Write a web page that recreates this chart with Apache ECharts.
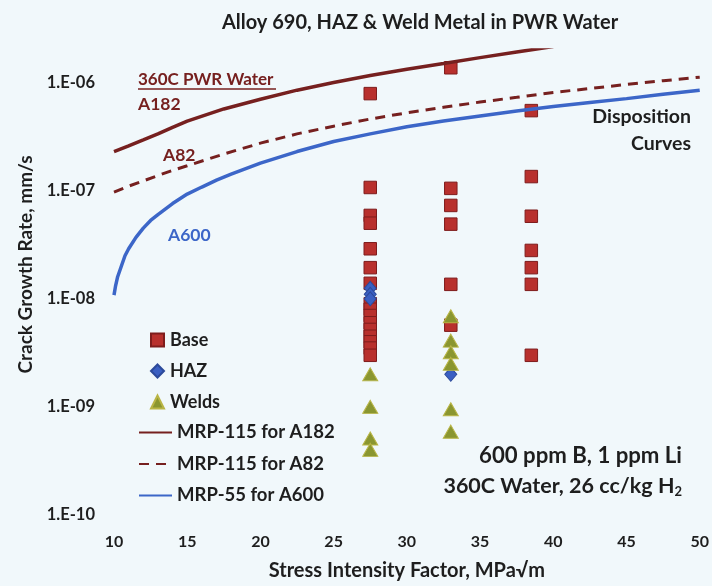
<!DOCTYPE html>
<html>
<head>
<meta charset="utf-8">
<script src="https://cdn.jsdelivr.net/npm/echarts@6/dist/echarts.min.js"></script>
<style>
  html, body { margin: 0; padding: 0; background: #f1f8fb; }
  #chart { width: 712px; height: 586px; }
</style>
</head>
<body>
<div id="chart"></div>
<script>
// --- data ---
var basePoints = [
    [27.5, 7.9e-7], [27.5, 1.07e-7], [27.5, 5.9e-8], [27.5, 5.0e-8], [27.5, 2.9e-8],
    [27.5, 1.94e-8], [27.5, 1.39e-8], [27.5, 9.0e-9], [27.5, 8.0e-9], [27.5, 7.0e-9],
    [27.5, 6.0e-9], [27.5, 5.2e-9], [27.5, 4.5e-9], [27.5, 4.0e-9], [27.5, 3.5e-9], [27.5, 3.0e-9],
    [33, 1.37e-6], [33, 1.05e-7], [33, 7.3e-8], [33, 4.9e-8], [33, 1.36e-8], [33, 5.7e-9],
    [38.5, 5.5e-7], [38.5, 1.35e-7], [38.5, 5.8e-8], [38.5, 2.8e-8], [38.5, 1.94e-8],
    [38.5, 1.36e-8], [38.5, 3.0e-9]
];
var hazPoints = [
    [27.5, 1.25e-8], [27.5, 1.1e-8], [27.5, 1.0e-8], [33, 2.0e-9]
];
var weldPoints = [
    [27.5, 2.0e-9], [27.5, 1.0e-9], [27.5, 5.1e-10], [27.5, 4.0e-10],
    [33, 6.9e-9], [33, 4.1e-9], [33, 3.2e-9], [33, 2.5e-9], [33, 9.5e-10], [33, 5.9e-10]
];

var a182K    = [10, 11, 12, 13, 14, 15, 17.5, 20, 22.5, 25, 27.5, 30, 32.5, 35, 37.5, 40];
var a182Rate = [2.3e-7, 2.6e-7, 2.95e-7, 3.35e-7, 3.85e-7, 4.4e-7, 5.7e-7, 7.0e-7, 8.5e-7, 1.0e-6,
                1.16e-6, 1.33e-6, 1.5e-6, 1.7e-6, 1.92e-6, 2.15e-6];

var a82K    = [10, 11, 12, 13, 14, 15, 17.5, 20, 22.5, 25, 27.5, 30, 32.5, 35, 37.5, 40, 42.5, 45, 47.5, 50];
var a82Rate = [9.7e-8, 1.1e-7, 1.23e-7, 1.38e-7, 1.54e-7, 1.7e-7, 2.18e-7, 2.75e-7, 3.35e-7, 3.95e-7,
               4.6e-7, 5.25e-7, 5.9e-7, 6.6e-7, 7.3e-7, 8.1e-7, 8.8e-7, 9.6e-7, 1.04e-6, 1.12e-6];

var a600K    = [10, 10.1, 10.25, 10.5, 10.75, 11, 11.5, 12, 12.5, 13, 14, 15, 16, 17, 18, 20,
                22.5, 25, 27.5, 30, 32.5, 35, 37.5, 40, 42.5, 45, 47.5, 50];
var a600Rate = [1.08e-8, 1.3e-8, 1.6e-8, 2.0e-8, 2.5e-8, 2.9e-8, 3.7e-8, 4.5e-8, 5.3e-8, 6.0e-8,
                7.6e-8, 9.3e-8, 1.08e-7, 1.25e-7, 1.42e-7, 1.8e-7, 2.3e-7, 2.85e-7, 3.35e-7, 3.9e-7,
                4.4e-7, 4.9e-7, 5.45e-7, 6.0e-7, 6.55e-7, 7.1e-7, 7.8e-7, 8.5e-7];

var decades = [1e-10, 1e-9, 1e-8, 1e-7, 1e-6];
var minorSteps = [2, 3, 4, 5, 6, 7, 8, 9];

var xMin = 10, xMax = 50, xStep = 5;
var yMin = 1e-10, yMax = 2e-6;

function zip(xs, ys) {
    var out = [];
    for (var i = 0; i < xs.length; i++) {
        out.push([xs[i], ys[i]]);
    }
    return out;
}

// tick positions: every unit on x, decades + 2..9 on the log y axis
var xTickValues = [];
for (var k = xMin; k <= xMax; k++) {
    xTickValues.push(k);
}
var yTickValues = [];
for (var d = 0; d < decades.length; d++) {
    yTickValues.push(decades[d]);
    if (d < decades.length - 1) {
        for (var m = 0; m < minorSteps.length; m++) {
            yTickValues.push(+(minorSteps[m] * decades[d]).toPrecision(3));
        }
    }
}

var FONT = 'Lato, "Open Sans", sans-serif';
var INK = '#1e1e1e';
var AXIS = '#1a1a1a';
var MAROON = '#76201f';
var BLUE = '#3c66c8';

var labels = [
    {
        type: 'text', left: 138, top: 71,
        style: { text: '360C PWR Water', fontFamily: FONT, fontWeight: 'bold', fontSize: 17, fill: MAROON }
    },
    {
        type: 'line', shape: { x1: 138, y1: 89, x2: 276, y2: 89 },
        style: { stroke: MAROON, lineWidth: 1.5 }
    },
    {
        type: 'text', left: 138, top: 95,
        style: { text: 'A182', fontFamily: FONT, fontWeight: 'bold', fontSize: 17.5, fill: MAROON }
    },
    {
        type: 'text', left: 163, top: 146,
        style: { text: 'A82', fontFamily: FONT, fontWeight: 'bold', fontSize: 17.5, fill: MAROON }
    },
    {
        type: 'text', left: 168, top: 226,
        style: { text: 'A600', fontFamily: FONT, fontWeight: 'bold', fontSize: 17.5, fill: BLUE }
    },
    {
        type: 'text', right: 21, top: 107,
        style: { text: 'Disposition', fontFamily: FONT, fontWeight: 'bold', fontSize: 19.5, fill: INK }
    },
    {
        type: 'text', right: 21, top: 134,
        style: { text: 'Curves', fontFamily: FONT, fontWeight: 'bold', fontSize: 19.5, fill: INK }
    },
    {
        type: 'text', right: 30, top: 445,
        style: { text: '600 ppm B, 1 ppm Li', fontFamily: FONT, fontWeight: 'bold', fontSize: 22.2, fill: INK }
    },
    {
        type: 'text', right: 30, top: 475,
        style: {
            text: '360C Water, 26 cc/kg H{sub|2}',
            fontFamily: FONT, fontWeight: 'bold', fontSize: 21.5, fill: INK,
            rich: { sub: { fontFamily: FONT, fontWeight: 'bold', fontSize: 13, fill: INK, padding: [11, 0, 0, 0] } }
        }
    }
];

var myChart = echarts.init(document.getElementById('chart'));

var option = {
    backgroundColor: '#f1f8fb',
    animation: false,
    title: {
        text: 'Alloy 690, HAZ & Weld Metal in PWR Water',
        left: 415,
        top: 8,
        textAlign: 'center',
        textStyle: { fontFamily: FONT, fontWeight: 'bold', fontSize: 20, color: INK }
    },
    grid: { left: 114, right: 10, top: 50, bottom: 67 },
    legend: [
        {
            orient: 'vertical',
            left: 145,
            top: 326,
            itemWidth: 13,
            itemHeight: 13,
            itemGap: 13,
            data: ['Base', 'HAZ', 'Welds'],
            textStyle: { fontFamily: FONT, fontWeight: 'bold', fontSize: 18, lineHeight: 18, color: INK, padding: [0, 0, 0, 1] }
        },
        {
            orient: 'vertical',
            left: 133,
            top: 418,
            itemWidth: 33,
            itemHeight: 13,
            itemGap: 12.5,
            data: ['MRP-115 for A182', 'MRP-115 for A82', 'MRP-55 for A600'],
            itemStyle: { color: 'rgba(0,0,0,0)', borderWidth: 0 },
            textStyle: { fontFamily: FONT, fontWeight: 'bold', fontSize: 18.5, lineHeight: 18, color: INK }
        }
    ],
    xAxis: {
        type: 'value',
        min: xMin,
        max: xMax,
        interval: xStep,
        name: 'Stress Intensity Factor, MPa\u221Am',
        nameLocation: 'middle',
        nameGap: 46,
        nameTextStyle: { fontFamily: FONT, fontWeight: 'bold', fontSize: 20, color: INK },
        axisLine: { show: false },
        axisTick: { show: false },
        axisLabel: { margin: 19, fontFamily: FONT, fontWeight: 'bold', fontSize: 16, color: INK },
        splitLine: { show: false }
    },
    yAxis: {
        type: 'log',
        logBase: 10,
        min: yMin,
        max: yMax,
        name: 'Crack Growth Rate, mm/s',
        nameLocation: 'middle',
        nameGap: 76,
        nameTextStyle: { fontFamily: FONT, fontWeight: 'bold', fontSize: 19, color: INK, padding: [0, 0, 0, 36] },
        axisLine: { show: false },
        axisTick: { show: false },
        axisLabel: {
            margin: 19,
            showMaxLabel: false,
            fontFamily: FONT, fontWeight: 'bold', fontSize: 16.5, color: INK,
            formatter: function (value) {
                var e = Math.round(Math.log(value) / Math.LN10);
                if (Math.abs(Math.pow(10, e) - value) / value > 0.01) {
                    return '';
                }
                var s = String(Math.abs(e));
                if (s.length < 2) { s = '0' + s; }
                return '1.E-' + s;
            }
        },
        splitLine: { show: false }
    },
    series: [
        {
            name: 'MRP-115 for A182',
            type: 'line',
            data: zip(a182K, a182Rate),
            symbol: 'none',
            color: MAROON,
            lineStyle: { color: MAROON, width: 3.5 }
        },
        {
            name: 'MRP-115 for A82',
            type: 'line',
            data: zip(a82K, a82Rate),
            symbol: 'none',
            color: MAROON,
            lineStyle: { color: MAROON, width: 3, type: [10, 7] }
        },
        {
            name: 'MRP-55 for A600',
            type: 'line',
            data: zip(a600K, a600Rate),
            symbol: 'none',
            color: BLUE,
            lineStyle: { color: BLUE, width: 3.5 }
        },
        {
            name: 'Base',
            type: 'scatter',
            data: basePoints,
            symbol: 'rect',
            symbolSize: 12.5,
            itemStyle: { color: '#b8302d', borderColor: '#7e1c1c', borderWidth: 1, opacity: 1 }
        },
        {
            name: 'HAZ',
            type: 'scatter',
            data: hazPoints,
            symbol: 'diamond',
            symbolSize: [12, 14],
            itemStyle: { color: '#3a5fc2', borderColor: '#2c4a9a', borderWidth: 1, opacity: 1 }
        },
        {
            name: 'Welds',
            type: 'scatter',
            data: weldPoints,
            symbol: 'triangle',
            symbolSize: [15, 13],
            itemStyle: { color: '#8a9630', borderColor: '#b9b545', borderWidth: 1, opacity: 1 }
        }
    ],
    graphic: labels
};

myChart.setOption(option);

// frame and ticks: placed with the chart's own scales once the grid is laid out
function seg(x1, y1, x2, y2, w) {
    return { type: 'line', silent: true, z: 50, shape: { x1: x1, y1: y1, x2: x2, y2: y2 }, style: { stroke: AXIS, lineWidth: w } };
}
try {
    var lo = myChart.convertToPixel({ gridIndex: 0 }, [xMin, yMin]);
    var hi = myChart.convertToPixel({ gridIndex: 0 }, [xMax, yMax]);
    var left = lo[0], right = hi[0], bottom = lo[1], top = hi[1];
    var marks = [
        seg(left, top, right, top, 2),
        seg(left, bottom, right, bottom, 2),
        seg(left, top, left, bottom, 2),
        seg(right, top, right, bottom, 2)
    ];
    for (var i = 0; i < xTickValues.length; i++) {
        var v = xTickValues[i];
        var px = myChart.convertToPixel({ gridIndex: 0 }, [v, yMin])[0];
        var major = (v - xMin) % xStep === 0;
        marks.push(seg(px, bottom, px, bottom - (major ? 5 : 4), major ? 2 : 1.5));
        if (major) {
            marks.push(seg(px, bottom, px, bottom + 5, 2));
            marks.push(seg(px, top, px, top + 5, 2));
        }
    }
    for (var j = 0; j < yTickValues.length; j++) {
        var yv = yTickValues[j];
        var py = myChart.convertToPixel({ gridIndex: 0 }, [xMin, yv])[1];
        marks.push(seg(left, py, left + 5, py, 1.5));
        marks.push(seg(right, py, right - 5, py, 1.5));
        if (decades.indexOf(yv) >= 0) {
            marks.push(seg(left, py, left - 5, py, 2));
        }
    }
    myChart.setOption({ graphic: labels.concat(marks) });
} catch (e) {
    // leave the chart as it is
}
</script>
</body>
</html>
